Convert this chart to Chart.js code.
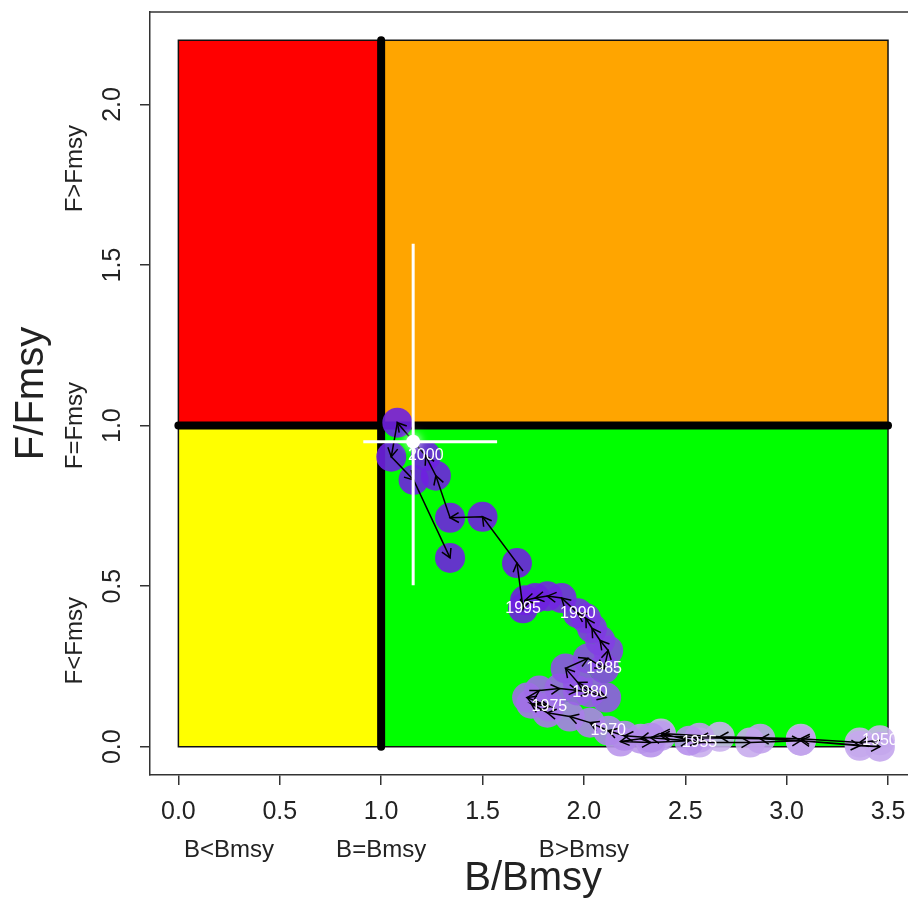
<!DOCTYPE html>
<html>
<head>
<meta charset="utf-8">
<script src="https://cdn.jsdelivr.net/npm/chart.js@4.4.1/dist/chart.umd.min.js"></script>
<style>
  html, body { margin: 0; padding: 0; background: #fff; overflow: hidden; }
  #kobe { display: block; }
</style>
</head>
<body>
<canvas id="kobe" width="908" height="899"></canvas>
<script>
// ── Kobe plot data ──────────────────────────────────────────────────
const years = [
    1950, 1951, 1952, 1953, 1954, 1955, 1956, 1957, 1958, 1959,
    1960, 1961, 1962, 1963, 1964, 1965, 1966, 1967, 1968, 1969,
    1970, 1971, 1972, 1973, 1974, 1975, 1976, 1977, 1978, 1979,
    1980, 1981, 1982, 1983, 1984, 1985, 1986, 1987, 1988, 1989,
    1990, 1991, 1992, 1993, 1994, 1995, 1996, 1997, 1998, 1999,
    2000, 2001, 2002, 2003, 2004
];
const bRatio = [
    3.46, 3.36, 3.07, 2.67, 2.38, 2.57, 2.82, 3.07, 3.36, 3.46,
    3.07, 2.87, 2.57, 2.38, 2.28, 2.18, 2.33, 2.52, 2.33, 2.20,
    2.12, 2.03, 1.93, 1.82, 1.74, 1.83, 1.72, 1.78, 1.88, 1.97,
    2.03, 2.11, 1.97, 1.91, 2.02, 2.10, 2.12, 2.08, 2.04, 2.01,
    1.97, 1.89, 1.82, 1.76, 1.71, 1.70, 1.67, 1.50, 1.34, 1.27,
    1.22, 1.08, 1.05, 1.16, 1.34
];
const fRatio = [
    0.020, 0.013, 0.025, 0.031, 0.041, 0.013, 0.013, 0.019, 0.003, 0.000,
    0.019, 0.025, 0.028, 0.034, 0.025, 0.016, 0.013, 0.019, 0.028, 0.034,
    0.050, 0.075, 0.094, 0.106, 0.134, 0.125, 0.153, 0.175, 0.181, 0.175,
    0.169, 0.153, 0.200, 0.244, 0.275, 0.244, 0.300, 0.331, 0.369, 0.400,
    0.416, 0.463, 0.469, 0.463, 0.456, 0.431, 0.572, 0.716, 0.713, 0.844,
    0.906, 1.009, 0.903, 0.831, 0.588
];
const labelYears = [1950, 1955, 1970, 1975, 1980, 1985, 1990, 1995, 2000];

const xTicks = [0.0, 0.5, 1.0, 1.5, 2.0, 2.5, 3.0, 3.5];
const yTicks = [0.0, 0.5, 1.0, 1.5, 2.0];

// quadrant limits (B/Bmsy and F/Fmsy)
const bLimits = [0, 1, 3.5];
const fLimits = [0, 1, 2.2];

// uncertainty cross for the final estimate
const ciCentre = [1.158, 0.95];
const ciB = [0.912, 1.572];
const ciF = [0.503, 1.566];

// axis annotations
const xZoneLabels = ['B<Bmsy', 'B=Bmsy', 'B>Bmsy'];
const xZoneAt = [0.25, 1.0, 2.0];
const yZoneLabels = ['F>Fmsy', 'F=Fmsy', 'F<Fmsy'];
const yZoneAt = [1.8, 1.0, 0.33];

const FONT = "'Liberation Sans', Arial, Helvetica, sans-serif";
const INK = '#222';

const points = years.map((_, i) => ({ x: bRatio[i], y: fRatio[i] }));

// older years pale lavender, recent years deep purple
function pointColour(i) {
    const t = i / (years.length - 1);
    const s = Math.pow(Math.min(1, t / 0.8), 1.5);
    const r = Math.round(205 - 95 * s);
    const g = Math.round(180 - 148 * s);
    const b = Math.round(238 - 14 * s);
    return `rgba(${r},${g},${b},0.9)`;
}

// ── Background quadrants, reference lines, arrows, labels ────────────
const kobePlugin = {
    id: 'kobe',
    beforeDatasetsDraw(chart) {
        const { ctx, scales: { x, y } } = chart;
        const quads = [
            { b: [bLimits[0], bLimits[1]], f: [fLimits[1], fLimits[2]], c: '#ff0000' },
            { b: [bLimits[1], bLimits[2]], f: [fLimits[1], fLimits[2]], c: '#ffa500' },
            { b: [bLimits[0], bLimits[1]], f: [fLimits[0], fLimits[1]], c: '#ffff00' },
            { b: [bLimits[1], bLimits[2]], f: [fLimits[0], fLimits[1]], c: '#00ff00' }
        ];
        ctx.save();
        quads.forEach(q => {
            const x0 = x.getPixelForValue(q.b[0]), x1 = x.getPixelForValue(q.b[1]);
            const y0 = y.getPixelForValue(q.f[1]), y1 = y.getPixelForValue(q.f[0]);
            ctx.fillStyle = q.c;
            ctx.fillRect(x0, y0, x1 - x0, y1 - y0);
            ctx.strokeStyle = '#111';
            ctx.lineWidth = 1.5;
            ctx.strokeRect(x0, y0, x1 - x0, y1 - y0);
        });

        // thick reference lines at B = Bmsy and F = Fmsy
        ctx.strokeStyle = '#000';
        ctx.lineWidth = 8;
        ctx.lineCap = 'round';
        ctx.beginPath();
        ctx.moveTo(x.getPixelForValue(bLimits[1]), y.getPixelForValue(fLimits[0]));
        ctx.lineTo(x.getPixelForValue(bLimits[1]), y.getPixelForValue(fLimits[2]));
        ctx.moveTo(x.getPixelForValue(bLimits[0]), y.getPixelForValue(fLimits[1]));
        ctx.lineTo(x.getPixelForValue(bLimits[2]), y.getPixelForValue(fLimits[1]));
        ctx.stroke();
        ctx.restore();
    },
    afterDatasetsDraw(chart) {
        const { ctx, scales: { x, y } } = chart;
        const meta = chart.getDatasetMeta(0);
        ctx.save();

        // arrow heads on each year-to-year step
        ctx.strokeStyle = '#000';
        ctx.lineWidth = 1.5;
        for (let i = 0; i < meta.data.length - 1; i++) {
            const p0 = meta.data[i], p1 = meta.data[i + 1];
            const dx = p1.x - p0.x, dy = p1.y - p0.y;
            if (Math.hypot(dx, dy) < 4) continue;
            const a = Math.atan2(dy, dx);
            const len = 10;
            ctx.beginPath();
            ctx.moveTo(p1.x - len * Math.cos(a - Math.PI / 6), p1.y - len * Math.sin(a - Math.PI / 6));
            ctx.lineTo(p1.x, p1.y);
            ctx.lineTo(p1.x - len * Math.cos(a + Math.PI / 6), p1.y - len * Math.sin(a + Math.PI / 6));
            ctx.stroke();
        }

        // uncertainty cross
        const cx = x.getPixelForValue(ciCentre[0]), cy = y.getPixelForValue(ciCentre[1]);
        ctx.strokeStyle = '#fff';
        ctx.lineWidth = 3;
        ctx.lineCap = 'butt';
        ctx.beginPath();
        ctx.moveTo(cx, y.getPixelForValue(ciF[0]));
        ctx.lineTo(cx, y.getPixelForValue(ciF[1]));
        ctx.moveTo(x.getPixelForValue(ciB[0]), cy);
        ctx.lineTo(x.getPixelForValue(ciB[1]), cy);
        ctx.stroke();
        ctx.shadowColor = '#fff';
        ctx.shadowBlur = 10;
        ctx.fillStyle = '#fff';
        ctx.beginPath();
        ctx.arc(cx, cy, 7, 0, Math.PI * 2);
        ctx.fill();
        ctx.shadowBlur = 0;

        // year labels
        ctx.fillStyle = '#fff';
        ctx.font = `16px ${FONT}`;
        ctx.textAlign = 'center';
        ctx.textBaseline = 'middle';
        labelYears.forEach(yr => {
            const p = meta.data[years.indexOf(yr)];
            ctx.fillText(String(yr), p.x, p.y);
        });
        ctx.restore();
    },
    afterDraw(chart) {
        const { ctx, chartArea, scales: { x, y } } = chart;
        ctx.save();
        // top edge of the plot box
        ctx.strokeStyle = '#333';
        ctx.lineWidth = 1.5;
        ctx.beginPath();
        ctx.moveTo(chartArea.left, chartArea.top);
        ctx.lineTo(chart.width, chartArea.top);
        ctx.stroke();

        ctx.fillStyle = INK;
        ctx.textAlign = 'center';
        ctx.textBaseline = 'middle';

        // rotated y tick labels
        ctx.font = `25px ${FONT}`;
        yTicks.forEach(v => {
            ctx.save();
            ctx.translate(113, y.getPixelForValue(v));
            ctx.rotate(-Math.PI / 2);
            ctx.fillText(v.toFixed(1), 0, 0);
            ctx.restore();
        });

        // y zone labels
        ctx.font = `24px ${FONT}`;
        yZoneLabels.forEach((t, i) => {
            ctx.save();
            ctx.translate(75, y.getPixelForValue(yZoneAt[i]));
            ctx.rotate(-Math.PI / 2);
            ctx.fillText(t, 0, 0);
            ctx.restore();
        });

        // x zone labels
        xZoneLabels.forEach((t, i) => {
            ctx.fillText(t, x.getPixelForValue(xZoneAt[i]), 850);
        });

        // axis titles
        ctx.font = `40px ${FONT}`;
        ctx.fillText('B/Bmsy', x.getPixelForValue(1.75), 879);
        ctx.save();
        ctx.translate(32, (chartArea.top + chartArea.bottom) / 2);
        ctx.rotate(-Math.PI / 2);
        ctx.fillText('F/Fmsy', 0, 0);
        ctx.restore();
        ctx.restore();
    }
};

new Chart(document.getElementById('kobe'), {
    type: 'scatter',
    data: {
        datasets: [
            {
                label: 'trajectory',
                data: points,
                showLine: true,
                borderColor: '#000',
                borderWidth: 1.5,
                pointRadius: 0,
                pointHoverRadius: 0
            },
            {
                label: 'years',
                data: points,
                pointRadius: 15,
                pointHoverRadius: 15,
                borderWidth: 0,
                backgroundColor: ctx => pointColour(ctx.dataIndex)
            }
        ]
    },
    options: {
        responsive: false,
        animation: false,
        devicePixelRatio: 1,
        layout: { autoPadding: false, padding: { top: 12, right: 0, left: 0, bottom: 0 } },
        plugins: { legend: { display: false }, tooltip: { enabled: false } },
        scales: {
            x: {
                type: 'linear',
                min: -0.14,
                max: 3.5986,
                afterBuildTicks: s => { s.ticks = xTicks.map(v => ({ value: v })); },
                afterFit: s => {
                    s.height = 124;
                    s.paddingLeft = 0;
                    s.paddingRight = 0;
                },
                ticks: {
                    color: INK,
                    padding: 12,
                    font: { family: FONT, size: 25 },
                    callback: v => Number(v).toFixed(1)
                },
                grid: { drawOnChartArea: false, drawTicks: true, tickLength: 10, color: '#333', lineWidth: 1.5 },
                border: { display: true, color: '#333', width: 1.5 }
            },
            y: {
                type: 'linear',
                min: -0.088,
                max: 2.288,
                afterBuildTicks: s => { s.ticks = yTicks.map(v => ({ value: v })); },
                afterFit: s => {
                    s.width = 150;
                    s.paddingTop = 0;
                    s.paddingBottom = 0;
                },
                ticks: { display: false },
                grid: { drawOnChartArea: false, drawTicks: true, tickLength: 10, color: '#333', lineWidth: 1.5 },
                border: { display: true, color: '#333', width: 1.5 }
            }
        }
    },
    plugins: [kobePlugin]
});
</script>
</body>
</html>
